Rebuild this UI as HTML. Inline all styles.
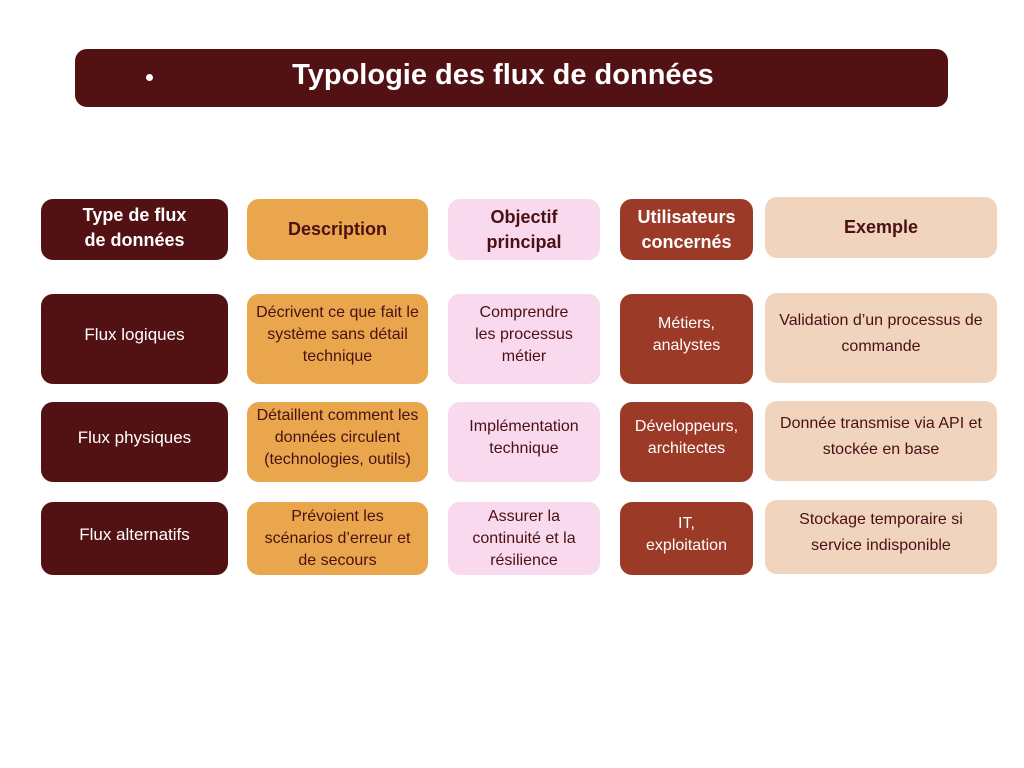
<!DOCTYPE html>
<html><head><meta charset="utf-8"><style>
body{margin:0;width:1024px;height:768px;background:#fff;position:relative;overflow:hidden;font-family:"Liberation Sans",sans-serif}
.b{position:absolute;display:flex;align-items:center;justify-content:center;text-align:center;border-radius:12px;box-sizing:border-box;padding:0 4px;font-size:16px;line-height:22px}
.t{padding-bottom:8px}
.h{font-weight:bold;font-size:18px;line-height:25px}
.m{background:#521113;color:#fff}
.o{background:#E9A64C;color:#4A1014}
.p{background:#F8D9EE;color:#4A1014}
.r{background:#9B3A26;color:#fff}
.e{background:#F0D4BD;color:#4A1014}
</style></head><body>
<div class="b m" style="left:75px;top:49px;width:873px;height:58px;font-weight:bold;font-size:29px;padding:0 17px 6px 0">Typologie des flux de données</div>
<div style="position:absolute;left:146px;top:74px;width:7px;height:7px;border-radius:50%;background:#fff"></div>

<div class="b m h" style="left:41px;top:199px;width:187px;height:61px;padding-bottom:4px">Type de flux<br>de données</div>
<div class="b o h" style="left:247px;top:199px;width:181px;height:61px">Description</div>
<div class="b p h" style="left:448px;top:199px;width:152px;height:61px">Objectif<br>principal</div>
<div class="b r h" style="left:620px;top:199px;width:133px;height:61px">Utilisateurs<br>concernés</div>
<div class="b e h" style="left:765px;top:197px;width:232px;height:61px">Exemple</div>

<div class="b m t" style="left:41px;top:294px;width:187px;height:90px;font-size:17px">Flux logiques</div>
<div class="b o t" style="left:247px;top:294px;width:181px;height:90px">Décrivent ce que fait le système sans détail technique</div>
<div class="b p t" style="left:448px;top:294px;width:152px;height:90px">Comprendre<br>les processus<br>métier</div>
<div class="b r t" style="left:620px;top:294px;width:133px;height:90px">Métiers,<br>analystes</div>
<div class="b e t" style="left:765px;top:293px;width:232px;height:90px;line-height:26px">Validation d’un processus de commande</div>

<div class="b m t" style="left:41px;top:402px;width:187px;height:80px;font-size:17px">Flux physiques</div>
<div class="b o t" style="left:247px;top:402px;width:181px;height:80px">Détaillent comment les données circulent (technologies, outils)</div>
<div class="b p t" style="left:448px;top:402px;width:152px;height:80px">Implémentation<br>technique</div>
<div class="b r t" style="left:620px;top:402px;width:133px;height:80px">Développeurs,<br>architectes</div>
<div class="b e t" style="left:765px;top:401px;width:232px;height:80px;line-height:26px">Donnée transmise via API et stockée en base</div>

<div class="b m t" style="left:41px;top:502px;width:187px;height:73px;font-size:17px">Flux alternatifs</div>
<div class="b o" style="left:247px;top:502px;width:181px;height:73px">Prévoient les<br>scénarios d’erreur et<br>de secours</div>
<div class="b p" style="left:448px;top:502px;width:152px;height:73px">Assurer la<br>continuité et la<br>résilience</div>
<div class="b r t" style="left:620px;top:502px;width:133px;height:73px">IT,<br>exploitation</div>
<div class="b e t" style="left:765px;top:500px;width:232px;height:74px;line-height:26px">Stockage temporaire si<br>service indisponible</div>
</body></html>
